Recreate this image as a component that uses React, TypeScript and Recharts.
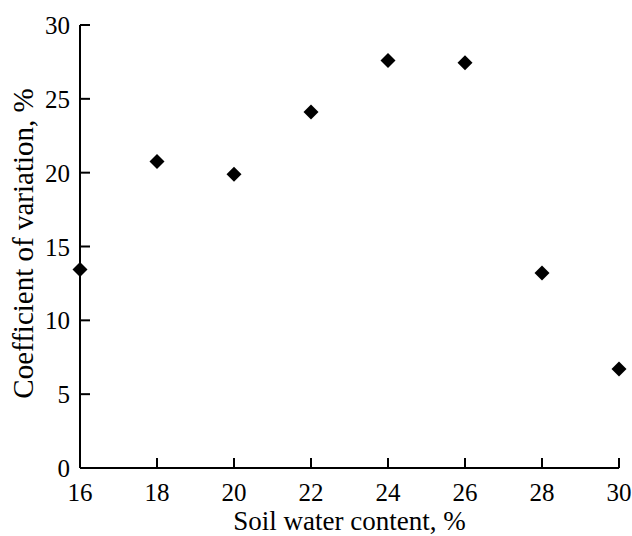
import { ScatterChart, Scatter, XAxis, YAxis, Label } from 'recharts'

const waterContent = [16, 18, 20, 22, 24, 26, 28, 30]
const variationCoef = [13.45, 20.75, 19.9, 24.1, 27.6, 27.45, 13.2, 6.7]
const xTicks = [16, 18, 20, 22, 24, 26, 28, 30]
const yTicks = [0, 5, 10, 15, 20, 25, 30]

const points = waterContent.map((w, i) => ({ w, cv: variationCoef[i] }))

// tick marks point inward (negative tickSize), so text is pushed back out here
function XTickLabel(props: any) {
  const { x, y, payload } = props
  return (
    <text x={x} y={y + 43} textAnchor="middle" fontFamily="Liberation Serif" fontSize={25}>
      {payload.value}
    </text>
  )
}

function YTickLabel(props: any) {
  const { x, y, payload } = props
  return (
    <text x={x - 20} y={y + 9} textAnchor="end" fontFamily="Liberation Serif" fontSize={25}>
      {payload.value}
    </text>
  )
}

function Diamond(props: any) {
  const { cx, cy } = props
  const r = 7.5
  return (
    <polygon
      points={`${cx},${cy - r} ${cx + r},${cy} ${cx},${cy + r} ${cx - r},${cy}`}
      fill="#000"
    />
  )
}

export default function App() {
  return (
    <div style={{ position: 'absolute', left: 0, top: 0 }}>
      <ScatterChart width={632} height={536} margin={{ top: 25, right: 13, left: 0, bottom: 0 }}>
        <XAxis
          type="number"
          dataKey="w"
          domain={[16, 30]}
          ticks={xTicks}
          interval={0}
          height={68}
          tickSize={-10}
          tickMargin={0}
          tickLine={{ stroke: '#000', strokeWidth: 2 }}
          tick={<XTickLabel />}
          axisLine={{ stroke: '#000', strokeWidth: 2 }}
        >
          <Label
            content={(p: any) => {
              const vb = p.viewBox
              return (
                <text
                  x={vb.x + vb.width / 2}
                  y={vb.y + 62}
                  textAnchor="middle"
                  fontFamily="Liberation Serif"
                  fontSize={27}
                >
                  Soil water content, %
                </text>
              )
            }}
          />
        </XAxis>
        <YAxis
          type="number"
          dataKey="cv"
          domain={[0, 30]}
          ticks={yTicks}
          interval={0}
          width={80}
          tickSize={-10}
          tickMargin={0}
          tickLine={{ stroke: '#000', strokeWidth: 2 }}
          tick={<YTickLabel />}
          axisLine={{ stroke: '#000', strokeWidth: 2 }}
        >
          <Label
            content={(p: any) => {
              const vb = p.viewBox
              const cx = vb.x + 33
              const cy = vb.y + vb.height / 2 - 3
              return (
                <text
                  x={cx}
                  y={cy}
                  textAnchor="middle"
                  transform={`rotate(-90 ${cx} ${cy})`}
                  fontFamily="Liberation Serif"
                  fontSize={29}
                >
                  Coefficient of variation, %
                </text>
              )
            }}
          />
        </YAxis>
        <Scatter data={points} fill="#000" shape={<Diamond />} isAnimationActive={false} />
      </ScatterChart>
    </div>
  )
}
